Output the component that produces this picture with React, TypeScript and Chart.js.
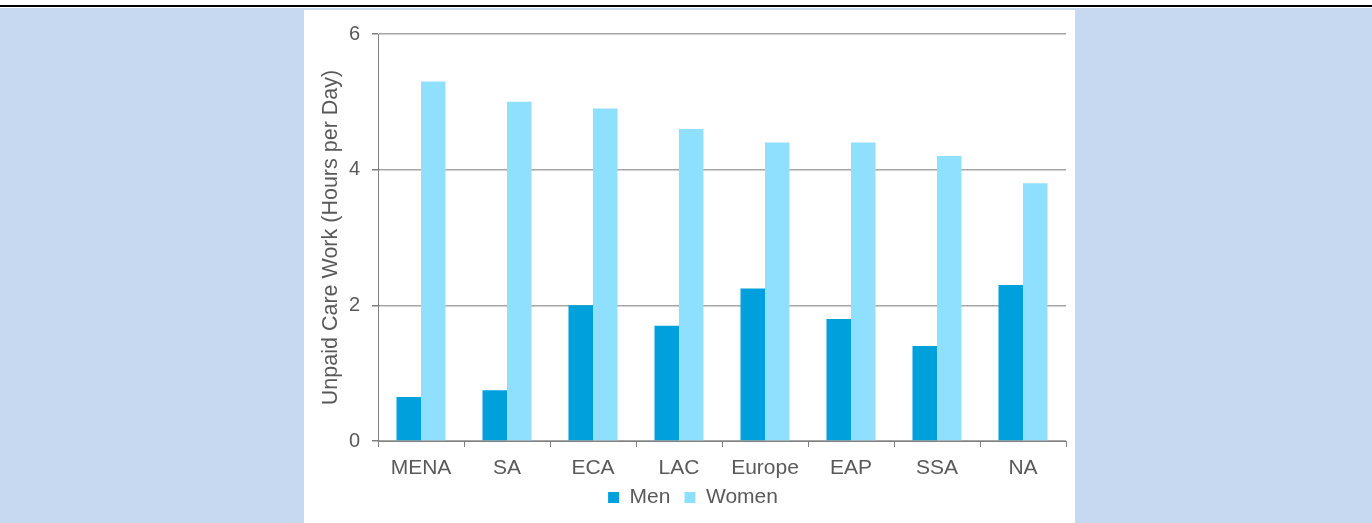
import React, { useEffect, useRef } from "react";
import { Chart, registerables } from "chart.js";

Chart.register(...registerables);

const categories = ["MENA", "SA", "ECA", "LAC", "Europe", "EAP", "SSA", "NA"];
const menValues = [0.65, 0.75, 2.0, 1.7, 2.25, 1.8, 1.4, 2.3];
const womenValues = [5.3, 5.0, 4.9, 4.6, 4.4, 4.4, 4.2, 3.8];
const yTickValues = [0, 2, 4, 6];
const seriesNames = ["Men", "Women"];
const yTitle = "Unpaid Care Work (Hours per Day)";

const FONT = "'Liberation Sans', Arial, Helvetica, sans-serif";
const TEXT = "#595959";

const layoutTweak = {
  id: "layoutTweak",
  afterLayout(chart: any) {
    const x = chart.scales.x;
    if (x) x.bottom += 16;
    const lg = chart.legend;
    if (lg) {
      lg.left += 8;
      lg.right += 8;
    }
  },
};

export default function App() {
  const ref = useRef<HTMLCanvasElement | null>(null);

  useEffect(() => {
    if (!ref.current) return;
    const chart = new Chart(ref.current, {
      type: "bar",
      data: {
        labels: categories,
        datasets: [
          {
            label: seriesNames[0],
            data: menValues,
            backgroundColor: "#00A0DC",
            borderWidth: 0,
            barPercentage: 1,
            categoryPercentage: 0.57,
          },
          {
            label: seriesNames[1],
            data: womenValues,
            backgroundColor: "#8FE0FF",
            borderWidth: 0,
            barPercentage: 1,
            categoryPercentage: 0.57,
          },
        ],
      },
      plugins: [layoutTweak],
      options: {
        responsive: false,
        animation: false,
        devicePixelRatio: 1,
        layout: { padding: { left: 0, right: 9, top: 24, bottom: 5 } },
        plugins: {
          legend: {
            position: "bottom",
            labels: {
              font: { family: FONT, size: 21 },
              color: TEXT,
              boxWidth: 11,
              boxHeight: 11,
              padding: 14,
            },
          },
          tooltip: { enabled: false },
        },
        scales: {
          x: {
            grid: {
              offset: true,
              drawOnChartArea: false,
              drawTicks: true,
              tickLength: 6,
              color: "#808080",
            },
            border: { display: true, color: "#808080" },
            ticks: {
              font: { family: FONT, size: 21 },
              color: TEXT,
              padding: 9,
              maxRotation: 0,
            },
            afterFit: (s: any) => {
              s.height = 32;
            },
          },
          y: {
            min: 0,
            max: 6,
            afterBuildTicks: (s: any) => {
              s.ticks = yTickValues.map((v) => ({ value: v }));
            },
            grid: {
              color: "#A6A6A6",
              lineWidth: 1.5,
              drawTicks: true,
              tickLength: 6,
              tickColor: "#808080",
            },
            border: { display: true, color: "#808080" },
            ticks: {
              font: { family: FONT, size: 20 },
              color: TEXT,
              padding: 12,
            },
            title: {
              display: true,
              text: yTitle,
              font: { family: FONT, size: 21.5 },
              color: TEXT,
              padding: { top: 14, bottom: 0 },
            },
            afterFit: (s: any) => {
              s.width = 74;
            },
          },
        },
      },
    });
    return () => chart.destroy();
  }, []);

  return (
    <div
      style={{
        position: "fixed",
        left: 0,
        top: 0,
        width: 1372,
        height: 523,
        background: "#FFFFFF",
        overflow: "hidden",
      }}
    >
      <div style={{ position: "absolute", left: 0, top: 5, width: 1372, height: 2, background: "#000000" }} />
      <div style={{ position: "absolute", left: 0, top: 8, width: 1372, height: 515, background: "#C6D9F0" }} />
      <div style={{ position: "absolute", left: 304, top: 10, width: 771, height: 513, background: "#FFFFFF" }}>
        <canvas ref={ref} width={771} height={513} style={{ display: "block", width: 771, height: 513 }} />
      </div>
    </div>
  );
}
